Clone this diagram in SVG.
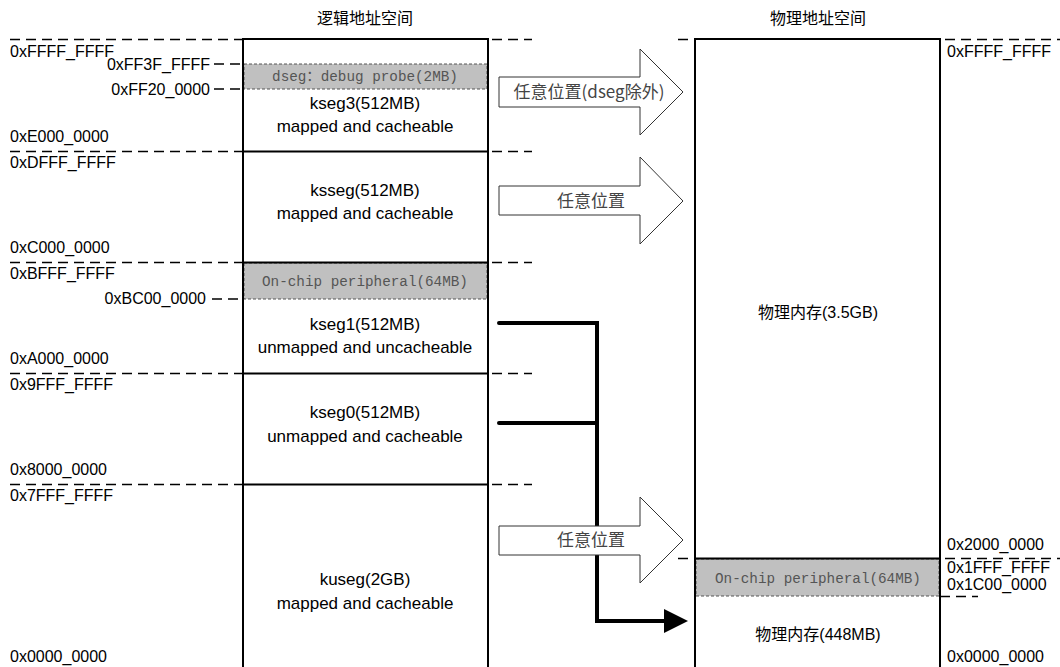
<svg xmlns="http://www.w3.org/2000/svg" width="1060" height="667" viewBox="0 0 1060 667">
<style>
.t{font-family:"Liberation Sans","Noto Sans CJK SC",sans-serif;font-size:16px;fill:#000}
.b{font-size:17px}
.c{text-anchor:middle}
.r{text-anchor:end}
.m{font-family:"Liberation Mono","Noto Sans CJK SC",monospace;font-size:14.3px;fill:#555;text-anchor:middle}
.a{font-family:"Noto Sans CJK SC",sans-serif;font-size:17px;fill:#444;text-anchor:middle}
.box{stroke:#000;stroke-width:2;fill:none}
.dash{stroke:#000;stroke-width:1.5;stroke-dasharray:10 6;fill:none}
.gray{fill:#c0c0c0;stroke:#555;stroke-width:1;stroke-dasharray:3 2}
.blk{fill:#fff;stroke:#333;stroke-width:1}
.thick{stroke:#000;stroke-width:4;fill:none;stroke-linecap:round}
</style>
<defs>
<marker id="ah" markerWidth="6" markerHeight="6" refX="0" refY="3" orient="auto" markerUnits="strokeWidth"><path d="M0,0 L6,3 L0,6 Z" fill="#000"/></marker>
</defs>

<text class="t c" x="365" y="24">逻辑地址空间</text>
<text class="t c" x="818" y="24">物理地址空间</text>

<g id="guides">
<path class="dash" d="M10,39.5 H243 M10,151.5 H243 M10,262.5 H243 M10,373.5 H243 M10,484.5 H243"/>
<path class="dash" d="M492,39.5 H532 M492,151.5 H532 M492,262.5 H532 M492,373.5 H532 M492,484.5 H532"/>
<path class="dash" d="M214,64 H243 M214,89 H243 M212,299 H243"/>
<path class="dash" d="M678,39.5 H690 M945,39.5 H1060 M678,558.5 H690 M945,558.5 H1060 M940,596.5 H978"/>
</g>

<g id="left-labels">
<text class="t" x="10" y="57">0xFFFF_FFFF</text>
<text class="t r" x="210" y="70">0xFF3F_FFFF</text>
<text class="t r" x="210" y="95">0xFF20_0000</text>
<text class="t" x="10" y="142">0xE000_0000</text>
<text class="t" x="10" y="168">0xDFFF_FFFF</text>
<text class="t" x="10" y="253">0xC000_0000</text>
<text class="t" x="10" y="279">0xBFFF_FFFF</text>
<text class="t r" x="206" y="304">0xBC00_0000</text>
<text class="t" x="10" y="364">0xA000_0000</text>
<text class="t" x="10" y="390">0x9FFF_FFFF</text>
<text class="t" x="10" y="475">0x8000_0000</text>
<text class="t" x="10" y="501">0x7FFF_FFFF</text>
<text class="t" x="10" y="662">0x0000_0000</text>
</g>

<g id="right-labels">
<text class="t" x="947" y="57">0xFFFF_FFFF</text>
<text class="t" x="947" y="550">0x2000_0000</text>
<text class="t" x="947" y="573">0x1FFF_FFFF</text>
<text class="t" x="947" y="590">0x1C00_0000</text>
<text class="t" x="947" y="662">0x0000_0000</text>
</g>

<g id="kseg3">
<rect class="gray" x="244" y="64" width="243" height="25"/>
<text class="m" x="365" y="81">dseg：debug probe(2MB)</text>
<text class="t b c" x="365" y="109">kseg3(512MB)</text>
<text class="t b c" x="365" y="132">mapped and cacheable</text>
</g>
<g id="ksseg">
<text class="t b c" x="365" y="196">ksseg(512MB)</text>
<text class="t b c" x="365" y="219">mapped and cacheable</text>
</g>
<g id="kseg1">
<rect class="gray" x="244" y="263" width="243" height="36"/>
<text class="m" x="365" y="286">On-chip peripheral(64MB)</text>
<text class="t b c" x="365" y="330">kseg1(512MB)</text>
<text class="t b c" x="365" y="353">unmapped and uncacheable</text>
</g>
<g id="kseg0">
<text class="t b c" x="365" y="418">kseg0(512MB)</text>
<text class="t b c" x="365" y="442">unmapped and cacheable</text>
</g>
<g id="kuseg">
<text class="t b c" x="365" y="585">kuseg(2GB)</text>
<text class="t b c" x="365" y="609">mapped and cacheable</text>
</g>
<g id="left-column">
<path class="box" d="M243,670 V39 H488 V670 M243,151.5 H488 M243,262.5 H488 M243,373.5 H488 M243,484.5 H488"/>
</g>

<g id="phys-main">
<text class="t c" x="818" y="318">物理内存(3.5GB)</text>
</g>
<g id="phys-periph">
<rect class="gray" x="696" y="559" width="243" height="37"/>
<text class="m" x="818" y="583">On-chip peripheral(64MB)</text>
</g>
<g id="phys-low">
<text class="t c" x="818" y="640">物理内存(448MB)</text>
</g>
<g id="right-column">
<path class="box" d="M695,670 V39 H940 V670 M695,558.5 H940"/>
</g>

<g id="connectors">
<path class="thick" d="M499,323 H597 V621 H664" marker-end="url(#ah)"/>
<path class="thick" d="M499,423 H597"/>
</g>

<g id="arrow1">
<path class="blk" d="M499,77 H640 V49 L683,92 L640,135 V107 H499 Z"/>
<text class="a" x="589" y="98">任意位置(dseg除外)</text>
</g>
<g id="arrow2">
<path class="blk" d="M499,186 H640 V157 L683,201 L640,244 V215 H499 Z"/>
<text class="a" x="591" y="207">任意位置</text>
</g>
<g id="arrow3">
<path class="blk" d="M499,526 H640 V497 L683,540 L640,583 V555 H499 Z"/>
<text class="a" x="591" y="546">任意位置</text>
</g>
</svg>
